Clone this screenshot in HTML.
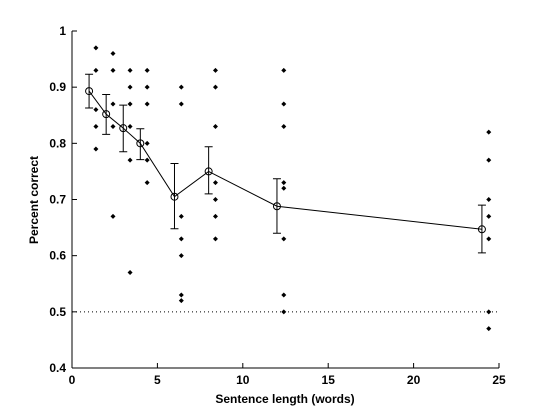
<!DOCTYPE html>
<html><head><meta charset="utf-8"><style>
body{margin:0;background:#fff}
svg text{font-family:"Liberation Sans",sans-serif;font-size:12px;font-weight:bold;fill:#000}
</style></head><body>
<svg id="c" width="552" height="414"></svg>
<script>
const meanX=[1,2,3,4,6,8,12,24];
const meanY=[0.893,0.852,0.827,0.800,0.705,0.750,0.688,0.647];
const errLo=[0.863,0.816,0.785,0.771,0.648,0.710,0.640,0.605];
const errHi=[0.923,0.887,0.868,0.826,0.764,0.794,0.737,0.690];
const dotX=[1.4,2.4,3.4,4.4,6.4,8.4,12.4,24.4];
const dotY=[[0.97,0.93,0.86,0.83,0.79],[0.96,0.93,0.87,0.83,0.67],[0.93,0.90,0.87,0.83,0.77,0.57],[0.93,0.90,0.87,0.80,0.77,0.73],[0.90,0.87,0.67,0.63,0.60,0.53,0.52],[0.93,0.90,0.83,0.73,0.70,0.67,0.63],[0.93,0.87,0.83,0.73,0.72,0.63,0.53,0.50],[0.82,0.77,0.70,0.67,0.63,0.50,0.47]];
const xTicks=[0,5,10,15,20,25];
const yTicks=[0.4,0.5,0.6,0.7,0.8,0.9,1];
const yTickLabels=["0.4","0.5","0.6","0.7","0.8","0.9","1"];
const chance=0.5;
const X=v=>72+v*(499-72)/25, Y=v=>368-(v-0.4)*(368-31)/0.6;
const s=document.getElementById('c'),NS='http://www.w3.org/2000/svg';
function mk(t,a,name,txt){const e=document.createElementNS(NS,t);for(const k in a)e.setAttribute(k,a[k]);


if(txt!==undefined)e.textContent=txt;s.appendChild(e);return e;}
mk('line',{x1:X(0),x2:X(25),y1:Y(chance),y2:Y(chance),stroke:'#000','stroke-dasharray':'1,3'},'chance-line');
mk('line',{x1:72,x2:72,y1:31,y2:368,stroke:'#000'},'y-axis');
mk('line',{x1:72,x2:499,y1:368,y2:368,stroke:'#000'},'x-axis');
xTicks.forEach(v=>{mk('line',{x1:X(v),x2:X(v),y1:368,y2:363,stroke:'#000'},'x-tick');
mk('text',{x:X(v),y:384,'text-anchor':'middle'},'x-tick-label',String(v));});
yTicks.forEach((v,i)=>{mk('line',{x1:72,x2:77,y1:Y(v),y2:Y(v),stroke:'#000'},'y-tick');
mk('text',{x:66,y:Y(v)+4,'text-anchor':'end'},'y-tick-label',yTickLabels[i]);});
mk('text',{x:285,y:403,'text-anchor':'middle'},'x-axis-title','Sentence length (words)');
mk('text',{x:38,y:200,'text-anchor':'middle',transform:'rotate(-90 38 200)'},'y-axis-title','Percent correct');
dotX.forEach((x,i)=>dotY[i].forEach(y=>{const cx=X(x),cy=Y(y);
mk('path',{d:`M${cx-2.5},${cy}L${cx},${cy-2.5}L${cx+2.5},${cy}L${cx},${cy+2.5}Z`,fill:'#000'},'data-point');}));
mk('polyline',{points:meanX.map((x,i)=>X(x)+','+Y(meanY[i])).join(' '),fill:'none',stroke:'#000'},'mean-line');
meanX.forEach((x,i)=>{const cx=X(x);
mk('path',{d:`M${cx},${Y(errLo[i])}V${Y(errHi[i])}M${cx-4},${Y(errLo[i])}H${cx+4}M${cx-4},${Y(errHi[i])}H${cx+4}`,stroke:'#000',fill:'none'},'error-bar');
mk('circle',{cx:cx,cy:Y(meanY[i]),r:3.5,fill:'none',stroke:'#000'},'mean-marker');});
</script></body></html>
